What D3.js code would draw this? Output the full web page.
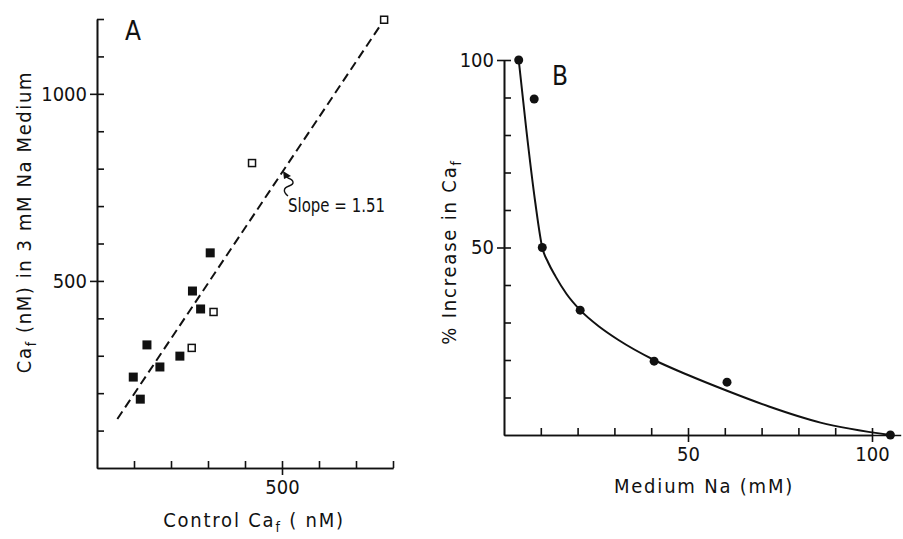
<!DOCTYPE html>
<html>
<head>
<meta charset="utf-8">
<script src="https://cdn.jsdelivr.net/npm/d3@7"></script>
<style>
  body { margin: 0; background: #fff; }
  text { font-family: "DejaVu Sans Condensed", "Liberation Sans Narrow", sans-serif; fill: #111; }
  .axis path, .axis line { stroke: #111; stroke-width: 1.6px; }
</style>
</head>
<body>
<svg id="fig" width="903" height="539"></svg>
<script>
// Panel A data (Ca_f in nM)
var filledX = [98, 117, 135, 170, 224, 258, 280, 306];
var filledY = [243, 184, 329, 270, 299, 473, 425, 575];
var openX = [256, 315, 419, 776];
var openY = [321, 417, 815, 1198];
var fitX = [55, 776];      // dashed regression line ends
var fitY = [131, 1198];

// Panel B data
var naX = [4, 8.2, 10.4, 20.7, 40.8, 60.6, 105];
var pctY = [100, 89.6, 50, 33.3, 19.7, 14.1, 0];
// hand-drawn curve through the points
var curveX = [4, 6, 8.5, 10.4, 12, 14, 17, 20.7, 26, 31, 40.8, 50, 60.6, 72, 86, 105];
var curveY = [100, 82, 62, 50, 46, 42.3, 37.6, 33.3, 28.8, 25.4, 20, 16, 11.8, 7.6, 3.3, 0];

var svg = d3.select("#fig");

// ---------- Panel A ----------
var xA = d3.scaleLinear().domain([0, 800]).range([97, 393]);
var yA = d3.scaleLinear().domain([0, 1200]).range([468, 19]);

var gA = svg.append("g");

// inside ticks
gA.append("g").attr("class", "axis")
    .attr("transform", "translate(97,0)")
    .call(d3.axisRight(yA).tickValues(d3.range(100, 1201, 100)).tickSize(7).tickSizeOuter(0).tickFormat(""));
gA.append("g").attr("class", "axis")
    .attr("transform", "translate(0,468)")
    .call(d3.axisTop(xA).tickValues(d3.range(100, 801, 100)).tickSize(7).tickSizeOuter(0).tickFormat(""));
// outside labelled ticks
gA.append("g").attr("class", "axis")
    .attr("transform", "translate(97,0)")
    .call(d3.axisLeft(yA).tickValues([500, 1000]).tickFormat(d3.format("d")).tickSize(7).tickSizeOuter(0).tickPadding(3));
gA.append("g").attr("class", "axis")
    .attr("transform", "translate(0,468)")
    .call(d3.axisBottom(xA).tickValues([500]).tickFormat(d3.format("d")).tickSize(7).tickSizeOuter(0).tickPadding(5));
gA.selectAll(".axis text").attr("font-size", 20).style("font-family", null);

// dashed fit line
gA.append("line")
    .attr("x1", xA(fitX[0])).attr("y1", yA(fitY[0]))
    .attr("x2", xA(fitX[1])).attr("y2", yA(fitY[1]))
    .attr("stroke", "#111").attr("stroke-width", 2)
    .attr("stroke-dasharray", "9,5");

// filled squares
gA.selectAll(".fsq").data(filledX).enter().append("rect")
    .attr("class", "fsq")
    .attr("x", (d, i) => xA(d) - 4.5)
    .attr("y", (d, i) => yA(filledY[i]) - 4.5)
    .attr("width", 9).attr("height", 9)
    .attr("fill", "#111");

// open squares
gA.selectAll(".osq").data(openX).enter().append("rect")
    .attr("class", "osq")
    .attr("x", (d, i) => xA(d) - 3.5)
    .attr("y", (d, i) => yA(openY[i]) - 3.5)
    .attr("width", 7).attr("height", 7)
    .attr("fill", "#fff").attr("stroke", "#111").attr("stroke-width", 1.5);

// slope annotation with squiggly arrow
gA.append("path")
    .attr("d", "M288,196 C283,192 283,188 289,186 C295,184 294,180 288,178 L286,176")
    .attr("fill", "none").attr("stroke", "#111").attr("stroke-width", 1.4);
gA.append("path")
    .attr("d", "M283,171 L291,176 L284,179 Z")
    .attr("fill", "#111");
gA.append("text").attr("x", 288).attr("y", 212)
    .attr("font-size", 19).attr("textLength", 97).attr("lengthAdjust", "spacingAndGlyphs")
    .text("Slope = 1.51");

gA.append("text").attr("x", 125).attr("y", 40)
    .attr("font-size", 26).text("A");

// axis titles
var xtA = gA.append("text").attr("x", 254).attr("y", 527)
    .attr("text-anchor", "middle").attr("font-size", 20).attr("letter-spacing", 1.8);
xtA.append("tspan").text("Control Ca");
xtA.append("tspan").attr("dy", 5).attr("font-size", 14).text("f");
xtA.append("tspan").attr("dy", -5).text(" ( nM)");

var ytA = gA.append("text")
    .attr("transform", "translate(31,222) rotate(-90)")
    .attr("text-anchor", "middle").attr("font-size", 20).attr("letter-spacing", 1.6);
ytA.append("tspan").text("Ca");
ytA.append("tspan").attr("dy", 5).attr("font-size", 14).text("f");
ytA.append("tspan").attr("dy", -5).text(" (nM) in 3 mM Na Medium");

// ---------- Panel B ----------
var xB = d3.scaleLinear().domain([0, 100]).range([504, 872]);
var yB = d3.scaleLinear().domain([0, 100]).range([435, 60]);

var gB = svg.append("g");

gB.append("g").attr("class", "axis")
    .attr("transform", "translate(504,0)")
    .call(d3.axisRight(yB).tickValues(d3.range(10, 101, 10)).tickSize(7).tickSizeOuter(0).tickFormat(""));
// x axis runs a little past 100
var xBext = d3.scaleLinear().domain([0, 107.8]).range([504, xB(107.8)]);
gB.append("g").attr("class", "axis")
    .attr("transform", "translate(0,435)")
    .call(d3.axisTop(xBext).tickValues(d3.range(10, 101, 10)).tickSize(7).tickSizeOuter(0).tickFormat(""));
gB.append("g").attr("class", "axis")
    .attr("transform", "translate(504,0)")
    .call(d3.axisLeft(yB).tickValues([50, 100]).tickSize(7).tickSizeOuter(0).tickPadding(3));
gB.append("g").attr("class", "axis")
    .attr("transform", "translate(0,435)")
    .call(d3.axisBottom(xB).tickValues([50, 100]).tickSize(7).tickSizeOuter(0).tickPadding(5));
gB.selectAll(".axis text").attr("font-size", 20).style("font-family", null);

var line = d3.line()
    .x((d, i) => xB(d))
    .y((d, i) => yB(curveY[i]))
    .curve(d3.curveMonotoneX);
gB.append("path").datum(curveX)
    .attr("d", line)
    .attr("fill", "none").attr("stroke", "#111").attr("stroke-width", 2);

gB.selectAll(".dot").data(naX).enter().append("circle")
    .attr("class", "dot")
    .attr("cx", d => xB(d))
    .attr("cy", (d, i) => yB(pctY[i]))
    .attr("r", 4.5)
    .attr("fill", "#111");

gB.append("text").attr("x", 552).attr("y", 85)
    .attr("font-size", 26).text("B");

gB.append("text").attr("x", 704).attr("y", 493)
    .attr("text-anchor", "middle").attr("font-size", 20).attr("letter-spacing", 1.8)
    .text("Medium Na (mM)");

var ytB = gB.append("text")
    .attr("transform", "translate(456,252) rotate(-90)")
    .attr("text-anchor", "middle").attr("font-size", 20).attr("letter-spacing", 1.8);
ytB.append("tspan").text("% Increase in Ca");
ytB.append("tspan").attr("dy", 5).attr("font-size", 14).text("f");
</script>
</body>
</html>
